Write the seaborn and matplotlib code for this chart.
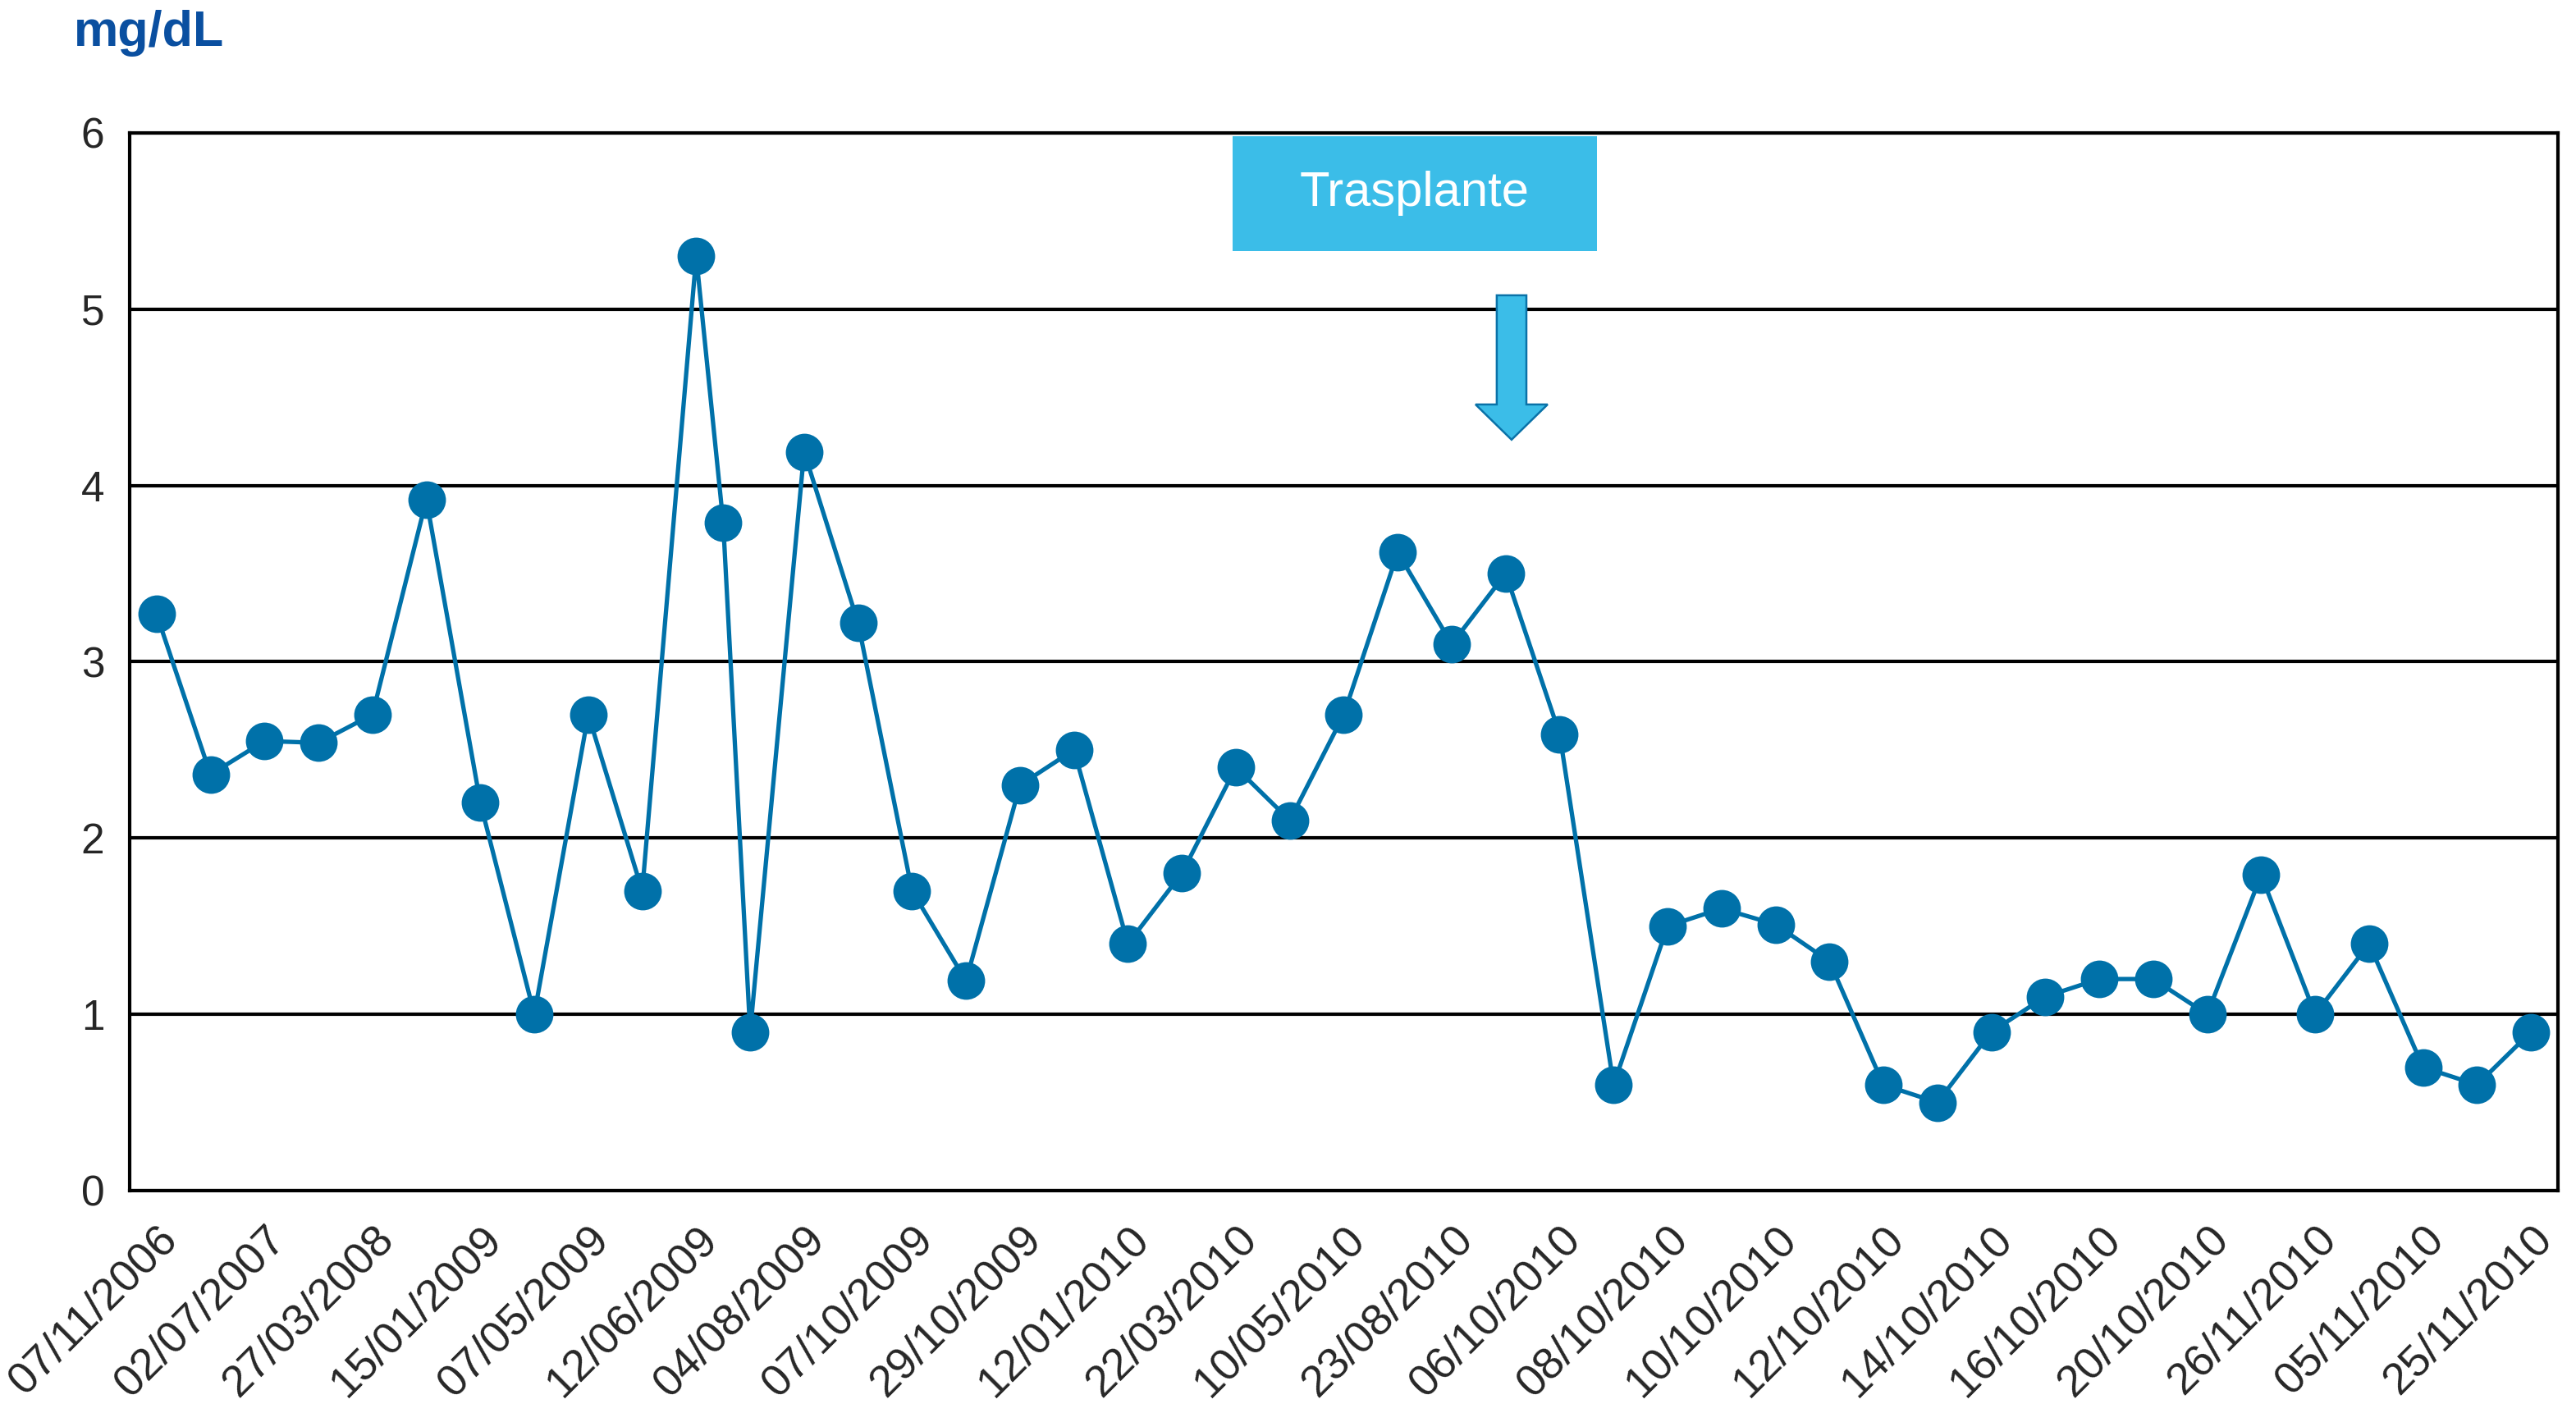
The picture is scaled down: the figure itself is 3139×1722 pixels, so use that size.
import numpy as np
import pandas as pd
import matplotlib
matplotlib.use('Agg')
import matplotlib.pyplot as plt
from matplotlib.patches import Rectangle, FancyArrow
import seaborn as sns

# 데이터
tick_labels = [
    '07/11/2006', '02/07/2007', '27/03/2008', '15/01/2009', '07/05/2009',
    '12/06/2009', '04/08/2009', '07/10/2009', '29/10/2009', '12/01/2010',
    '22/03/2010', '10/05/2010', '23/08/2010', '06/10/2010', '08/10/2010',
    '10/10/2010', '12/10/2010', '14/10/2010', '16/10/2010', '20/10/2010',
    '26/11/2010', '05/11/2010', '25/11/2010',
]
positions = [0, 1, 2, 3, 4, 5, 6, 7, 8, 9, 10, 10.5, 11, 12, 13, 14, 15, 16,
             17, 18, 19, 20, 21, 22, 23, 24, 25, 26, 27, 28, 29, 30, 31, 32,
             33, 34, 35, 36, 37, 38, 39, 40, 41, 42, 43, 44]
values = [3.27, 2.36, 2.55, 2.54, 2.70, 3.92, 2.20, 1.00, 2.70, 1.70,
          5.30, 3.79, 0.90, 4.19, 3.22, 1.70, 1.19, 2.30, 2.50, 1.40,
          1.80, 2.40, 2.10, 2.70, 3.62, 3.10, 3.50, 2.59, 0.60, 1.50,
          1.60, 1.51, 1.30, 0.60, 0.50, 0.90, 1.10, 1.20, 1.20, 1.00,
          1.79, 1.00, 1.40, 0.70, 0.60, 0.90]
y_ticks = [0, 1, 2, 3, 4, 5, 6]

LINE_COLOR = '#0071a9'
BOX_COLOR = '#3bbde8'
TITLE_COLOR = '#0a4fa0'

sns.set_style('white')
plt.rcParams['font.family'] = ['Liberation Sans', 'DejaVu Sans']

df = pd.DataFrame({'pos': positions, 'value': values})

fig = plt.figure(figsize=(31.39, 17.22), dpi=100)
ax = fig.add_axes([0.0503, 0.1574, 0.9427, 0.7486])

sns.lineplot(data=df, x='pos', y='value', ax=ax, color=LINE_COLOR,
             linewidth=3.8, marker='o', markersize=33,
             markeredgewidth=0, markerfacecolor=LINE_COLOR, zorder=3)

ax.set_xlim(-0.5, 44.5)
ax.set_ylim(0, 6)
ax.set_yticks(y_ticks)
ax.set_yticklabels([str(v) for v in y_ticks], fontsize=37)
ax.set_xticks(np.arange(0, 45, 2))
ax.set_xticklabels(tick_labels, fontsize=39, rotation=45, ha='right',
                   va='top', rotation_mode='anchor')
ax.tick_params(axis='x', length=0, pad=24)
ax.tick_params(axis='y', length=0, pad=22)
ax.set_xlabel('')
ax.set_ylabel('')

ax.yaxis.grid(True, color='black', linewidth=3.0, zorder=1)
ax.xaxis.grid(False)
ax.set_axisbelow(True)
for s in ax.spines.values():
    s.set_color('black')
    s.set_linewidth(3.0)

# Trasplante 박스와 화살표
ax.add_patch(Rectangle((0.4542, 0.888), 0.1501, 0.1085, transform=ax.transAxes,
                       facecolor=BOX_COLOR, edgecolor='none', zorder=4))
ax.text(0.5292, 0.9425, 'Trasplante', transform=ax.transAxes, color='white',
        fontsize=43, ha='center', va='center', zorder=5)
ax.add_patch(FancyArrow(0.5691, 0.8464, 0, -0.1365, width=0.0122,
                        head_width=0.0297, head_length=0.0333,
                        length_includes_head=True, transform=ax.transAxes,
                        facecolor=BOX_COLOR, edgecolor='#0a72a8',
                        linewidth=1.8, zorder=5))

fig.text(0.0287, 0.9675, 'mg/dL', color=TITLE_COLOR, fontsize=44,
         fontweight='bold', ha='left', va='baseline')

fig.savefig('out.png', dpi=100)
plt.close(fig)
